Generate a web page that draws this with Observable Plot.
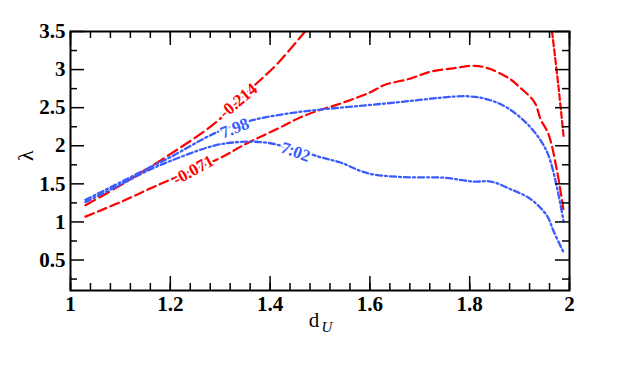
<!DOCTYPE html>
<html><head><meta charset="utf-8">
<script src="https://cdn.jsdelivr.net/npm/d3@7"></script>
<script src="https://cdn.jsdelivr.net/npm/@observablehq/plot@0.6"></script>
<style>body{margin:0;background:#fff} svg text{font-family:"Liberation Serif","DejaVu Serif",serif !important;}</style>
</head><body><div id="chart"></div>
<script>
// Contour -0.214 (red, long dash)
const x_m214 = [1.03, 1.10, 1.20, 1.29, 1.37, 1.415, 1.47];
const y_m214 = [1.22, 1.48, 1.89, 2.30, 2.80, 3.08, 3.50];
// Contour -0.071 (red, long dash)
const x_m071 = [1.03, 1.10, 1.17, 1.30, 1.35, 1.42, 1.46, 1.50, 1.53, 1.60, 1.63, 1.68, 1.72, 1.77, 1.81, 1.84, 1.88, 1.90, 1.93, 1.942, 1.958, 1.975, 1.988];
const y_m071 = [1.07, 1.26, 1.47, 1.84, 2.02, 2.24, 2.37, 2.47, 2.53, 2.70, 2.80, 2.88, 2.97, 3.02, 3.05, 3.01, 2.88, 2.77, 2.57, 2.35, 2.15, 1.67, 1.15];
// Contour -0.214 right branch (red, short dash)
const x_m214r = [1.965, 1.978, 1.988];
const y_m214r = [3.50, 2.77, 2.13];
// Contour 7.98 (blue, dash-dot)
const x_798 = [1.03, 1.10, 1.16, 1.20, 1.294, 1.361, 1.454, 1.541, 1.655, 1.741, 1.795, 1.835, 1.875, 1.915, 1.942, 1.958, 1.975, 1.988];
const y_798 = [1.29, 1.52, 1.72, 1.85, 2.18, 2.33, 2.44, 2.50, 2.57, 2.63, 2.65, 2.61, 2.50, 2.29, 2.07, 1.87, 1.45, 1.01];
// Contour 7.02 (blue, dash-dot)
const x_702 = [1.03, 1.10, 1.16, 1.20, 1.287, 1.341, 1.394, 1.45, 1.501, 1.541, 1.595, 1.661, 1.748, 1.808, 1.842, 1.882, 1.922, 1.955, 1.968, 1.988];
const y_702 = [1.26, 1.49, 1.69, 1.80, 2.00, 2.05, 2.04, 1.95, 1.85, 1.78, 1.64, 1.59, 1.58, 1.53, 1.53, 1.43, 1.30, 1.08, 0.88, 0.60];

// Contour labels
const labelText = ["-0.214", "7.98", "-0.071", "7.02"];
const labelX = [1.336, 1.329, 1.246, 1.451];
const labelY = [2.59, 2.23, 1.68, 1.92];
const labelAngle = [-40, -22, -29, 20];
const labelColor = ["#ff0000", "#3a5cff", "#ff0000", "#3a5cff"];

// Axis ticks
const xTicks = [1, 1.2, 1.4, 1.6, 1.8, 2];
const yTicks = [0.5, 1, 1.5, 2, 2.5, 3, 3.5];
const xMinor = d3.range(0, 26).map(i => 1 + i * 0.04);
const yMinor = [0.25, 0.75, 1.25, 1.75, 2.25, 2.75, 3.25];

const RED = "#ff0000", BLUE = "#3a5cff";
const toRows = (xs, ys) => xs.map((x, i) => ({x, y: ys[i]}));
const labels = labelText.map((t, i) => ({t, x: labelX[i], y: labelY[i], a: labelAngle[i], c: labelColor[i]}));

const W = 623, H = 377, mL = 70, mR = 54, mT = 31, mB = 87;
const iw = W - mL - mR, ih = H - mT - mB;
const font = "Liberation Serif";

const chart = Plot.plot({
  width: W, height: H,
  marginLeft: mL, marginRight: mR, marginTop: mT, marginBottom: mB,
  style: {fontFamily: font, background: "#fff"},
  x: {domain: [1, 2], axis: null},
  y: {domain: [0.1, 3.5], axis: null},
  marks: [
    Plot.line(toRows(x_m214, y_m214), {x: "x", y: "y", stroke: RED, strokeWidth: 2.2, strokeDasharray: "11,5", curve: "catmull-rom", clip: true}),
    Plot.line(toRows(x_m071, y_m071), {x: "x", y: "y", stroke: RED, strokeWidth: 2.2, strokeDasharray: "9,4.5", curve: "catmull-rom", clip: true}),
    Plot.line(toRows(x_m214r, y_m214r), {x: "x", y: "y", stroke: RED, strokeWidth: 2.2, strokeDasharray: "6,3", curve: "catmull-rom", clip: true}),
    Plot.line(toRows(x_798, y_798), {x: "x", y: "y", stroke: BLUE, strokeWidth: 2.3, strokeDasharray: "6,3,2,3", curve: "catmull-rom", clip: true}),
    Plot.line(toRows(x_702, y_702), {x: "x", y: "y", stroke: BLUE, strokeWidth: 2.3, strokeDasharray: "6,3,2,3", curve: "catmull-rom", clip: true}),
    Plot.text(labels, {x: "x", y: "y", text: "t", rotate: "a", fill: "c", stroke: "white", strokeWidth: 4, fontSize: 17, fontWeight: "bold", fontFamily: font}),
    // inward ticks: bottom/top
    Plot.tickX(xTicks, {x: d => d, insetTop: ih - 14, stroke: "black", strokeWidth: 1.5}),
    Plot.tickX(xTicks, {x: d => d, insetBottom: ih - 14, stroke: "black", strokeWidth: 1.5}),
    Plot.tickX(xMinor, {x: d => d, insetTop: ih - 7, stroke: "black", strokeWidth: 1.5}),
    Plot.tickX(xMinor, {x: d => d, insetBottom: ih - 7, stroke: "black", strokeWidth: 1.5}),
    // inward ticks: left/right
    Plot.tickY(yTicks, {y: d => d, insetRight: iw - 14, stroke: "black", strokeWidth: 1.5}),
    Plot.tickY(yTicks, {y: d => d, insetLeft: iw - 14, stroke: "black", strokeWidth: 1.5}),
    Plot.tickY(yMinor, {y: d => d, insetRight: iw - 7, stroke: "black", strokeWidth: 1.5}),
    Plot.tickY(yMinor, {y: d => d, insetLeft: iw - 7, stroke: "black", strokeWidth: 1.5}),
    Plot.frame({stroke: "black", strokeWidth: 2}),
    // tick labels
    Plot.axisX(xTicks, {anchor: "bottom", tickSize: 0, tickPadding: 6, tickFormat: d => String(d), fontSize: 21, fontWeight: "bold", fontFamily: font, fill: "black", label: null}),
    Plot.axisY(yTicks, {anchor: "left", tickSize: 0, tickPadding: 5, tickFormat: d => String(d), fontSize: 21, fontWeight: "bold", fontFamily: font, fill: "black", label: null}),
    // axis titles
    Plot.text(["λ"], {frameAnchor: "left", dx: -45, rotate: -90, fontSize: 22, fontFamily: font, fill: "black"}),
    Plot.text(["d"], {frameAnchor: "bottom", dx: -6, dy: 36, fontSize: 21, fontFamily: font, fill: "black"}),
    Plot.text(["U"], {frameAnchor: "bottom", dx: 7, dy: 41, fontSize: 15, fontStyle: "italic", fontFamily: font, fill: "black"})
  ]
});
document.getElementById("chart").append(chart);
</script>
</body></html>
